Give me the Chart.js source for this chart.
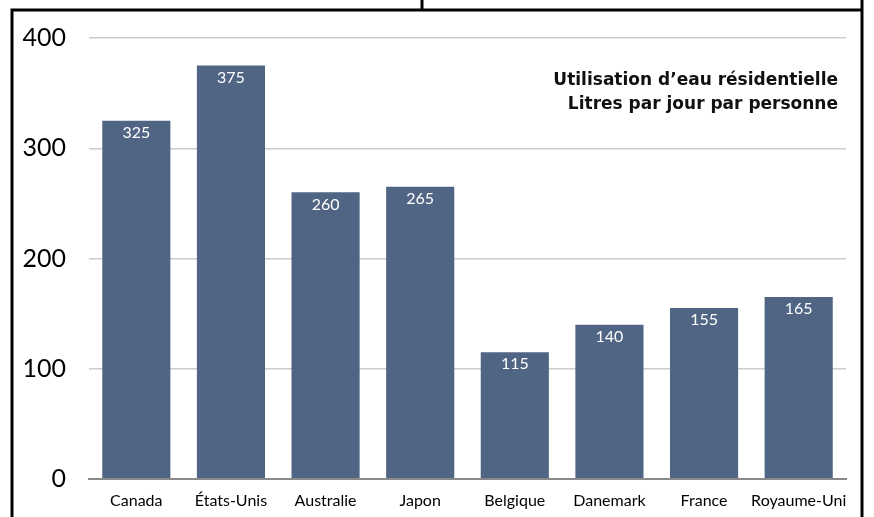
<!DOCTYPE html>
<html>
<head>
<meta charset="utf-8">
<script src="https://cdn.jsdelivr.net/npm/chart.js@4/dist/chart.umd.min.js"></script>
<style>
  html, body { margin: 0; padding: 0; background: #fff; }
  canvas { display: block; }
</style>
</head>
<body>
<canvas id="eauChart" width="874" height="517"></canvas>
<script>
// donnees
var pays = ["Canada", "États-Unis", "Australie", "Japon", "Belgique", "Danemark", "France", "Royaume-Uni"];
var litres = [325, 375, 260, 265, 115, 140, 155, 165];
var yTicks = [0, 100, 200, 300, 400];
var titre = ["Utilisation d\u2019eau résidentielle", "Litres par jour par personne"];

// cadre noir autour du graphique
var cadre = {
  id: "cadre",
  beforeDraw: function (chart) {
    var c = chart.ctx;
    c.save();
    c.strokeStyle = "#000";
    c.lineWidth = 3;
    c.beginPath();
    c.moveTo(12, 517); c.lineTo(12, 10); c.lineTo(862, 10);
    c.moveTo(862, 0); c.lineTo(862, 517);
    c.moveTo(422, 0); c.lineTo(422, 10);
    c.stroke();
    c.restore();
  },
  afterDraw: function (chart) {
    var c = chart.ctx;
    c.save();
    // valeurs dans les barres
    c.fillStyle = "#fff";
    c.font = "16px Lato";
    c.textAlign = "center";
    c.textBaseline = "middle";
    chart.getDatasetMeta(0).data.forEach(function (bar, i) {
      c.fillText(String(litres[i]), bar.x, bar.y + 12);
    });
    // titre
    c.fillStyle = "#111";
    c.font = "bold 17px 'DejaVu Sans'";
    c.textAlign = "right";
    c.fillText(titre[0], 838, 81);
    c.fillText(titre[1], 838, 105);
    c.restore();
  }
};

var ctx = document.getElementById("eauChart").getContext("2d");
new Chart(ctx, {
  type: "bar",
  data: {
    labels: pays,
    datasets: [{
      data: litres,
      backgroundColor: "#506584",
      borderWidth: 0,
      barPercentage: 0.72,
      categoryPercentage: 1
    }]
  },
  options: {
    responsive: false,
    animation: false,
    layout: { padding: { top: 38, right: 28, bottom: 0, left: 0 } },
    scales: {
      x: {
        grid: { display: false, drawTicks: false },
        border: { display: true, color: "#8a8a8a", width: 2 },
        ticks: { color: "#000", font: { family: "Lato", size: 16 }, padding: 12, maxRotation: 0, autoSkip: false },
        afterFit: function (s) { s.height = 35; }
      },
      y: {
        min: 0,
        max: 400,
        afterBuildTicks: function (s) { s.ticks = yTicks.map(function (v) { return { value: v }; }); },
        grid: {
          drawTicks: false,
          color: function (c) { return c.tick.value === 0 ? "#8a8a8a" : "#cccccc"; },
          lineWidth: function (c) { return c.tick.value === 0 ? 2 : 1.5; }
        },
        border: { display: false },
        ticks: { color: "#000", font: { family: "Lato", size: 25 }, padding: 23 },
        afterFit: function (s) { s.width = 89; }
      }
    },
    plugins: {
      legend: { display: false },
      tooltip: { enabled: false }
    }
  },
  plugins: [cadre]
});
</script>
</body>
</html>
